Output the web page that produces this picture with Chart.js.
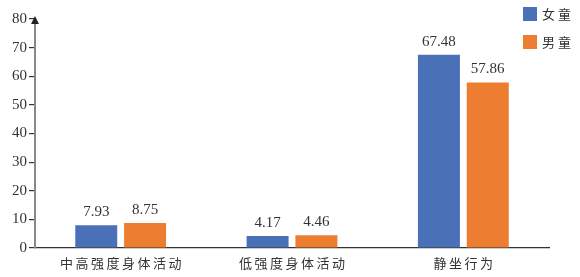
<!DOCTYPE html>
<html>
<head>
<meta charset="utf-8">
<script src="https://cdn.jsdelivr.net/npm/chart.js@4/dist/chart.umd.min.js"></script>
<style>
  html, body { margin: 0; padding: 0; background: #fff; }
  #wrap { width: 580px; height: 277px; }
</style>
</head>
<body>
<div id="wrap"><canvas id="chart" width="580" height="277"></canvas></div>
<script>
// data
const categories = ['中高强度身体活动', '低强度身体活动', '静坐行为'];
const girls = [7.93, 4.17, 67.48];
const boys = [8.75, 4.46, 57.86];
const seriesNames = ['女童', '男童'];
const yTicks = [0, 10, 20, 30, 40, 50, 60, 70, 80];

const blue = '#4a70b8';
const orange = '#ed7d31';
const serif = "'Liberation Serif', 'Times New Roman', serif";
const cjk = "'Noto Sans CJK SC', 'Noto Sans', sans-serif";

// value labels above bars, x labels with spacing, legend, arrow on y axis
const extras = {
    id: 'extras',
    afterDraw(chart) {
        const ctx = chart.ctx;
        const area = chart.chartArea;
        const x = chart.scales.x;

        ctx.save();
        ctx.fillStyle = '#333';
        ctx.font = '15px ' + serif;
        ctx.textAlign = 'center';
        ctx.textBaseline = 'alphabetic';
        chart.data.datasets.forEach((ds, i) => {
            chart.getDatasetMeta(i).data.forEach((bar, j) => {
                ctx.fillText(ds.data[j].toFixed(2), bar.x, bar.y - 9);
            });
        });

        // category labels
        ctx.font = '13px ' + cjk;
        ctx.letterSpacing = '2.5px';
        ctx.textBaseline = 'middle';
        categories.forEach((c, i) => {
            ctx.fillText(c, x.getPixelForValue(i) + 1.25, 263);
        });

        // legend
        ctx.textAlign = 'left';
        ctx.letterSpacing = '3px';
        [blue, orange].forEach((col, i) => {
            const y0 = 7 + i * 28;
            ctx.fillStyle = col;
            ctx.fillRect(523, y0, 14, 14);
            ctx.fillStyle = '#333';
            ctx.fillText(seriesNames[i], 542, y0 + 7);
        });

        // arrow head
        ctx.fillStyle = '#222';
        ctx.beginPath();
        ctx.moveTo(area.left, area.top - 3);
        ctx.lineTo(area.left - 4, area.top + 5);
        ctx.lineTo(area.left + 4, area.top + 5);
        ctx.closePath();
        ctx.fill();
        ctx.restore();
    }
};

new Chart(document.getElementById('chart'), {
    type: 'bar',
    data: {
        labels: categories,
        datasets: [
            { label: seriesNames[0], data: girls, backgroundColor: blue },
            { label: seriesNames[1], data: boys, backgroundColor: orange }
        ]
    },
    options: {
        responsive: false,
        animation: false,
        devicePixelRatio: 1,
        layout: { padding: { top: 19, right: 31, left: 0, bottom: 0 } },
        datasets: {
            bar: { barPercentage: 0.86, categoryPercentage: 0.57 }
        },
        plugins: {
            legend: { display: false },
            tooltip: { enabled: false }
        },
        scales: {
            x: {
                grid: { display: false },
                border: { color: '#333', width: 1.2 },
                ticks: { display: false },
                afterFit: s => { s.height = 29; }
            },
            y: {
                min: 0,
                max: 80,
                afterBuildTicks: s => { s.ticks = yTicks.map(v => ({ value: v })); },
                grid: {
                    drawOnChartArea: false,
                    drawTicks: true,
                    tickLength: 6,
                    tickColor: '#333',
                    lineWidth: 1.2
                },
                border: { color: '#888', width: 2 },
                ticks: {
                    color: '#333',
                    padding: 2,
                    font: { family: serif, size: 15 }
                },
                afterFit: s => { s.width = 35; }
            }
        }
    },
    plugins: [extras]
});
</script>
</body>
</html>
